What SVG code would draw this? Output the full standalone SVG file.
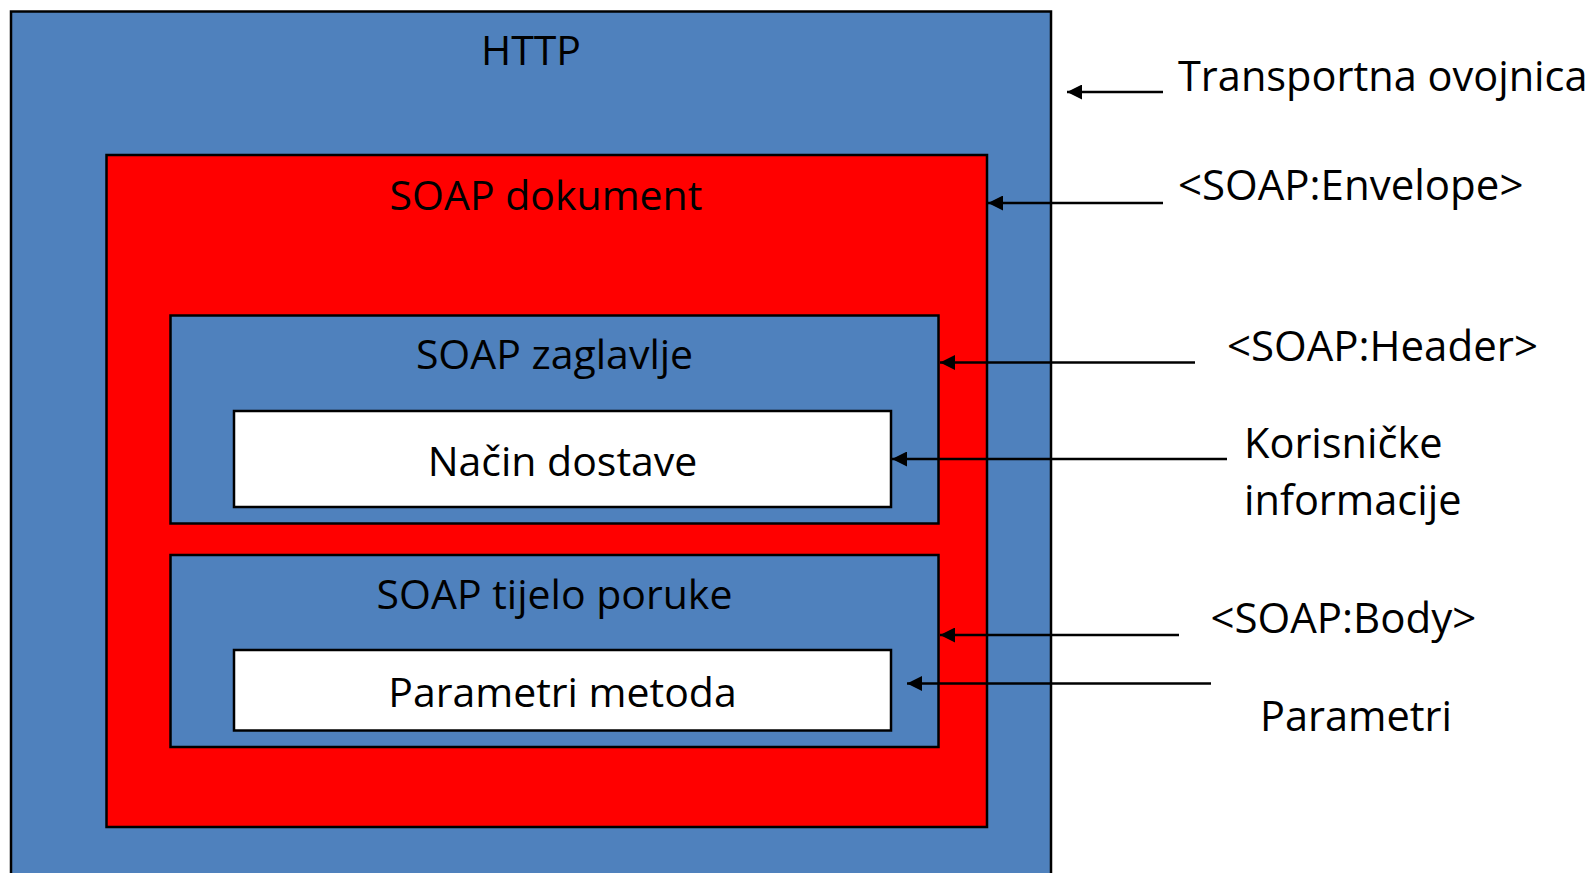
<svg xmlns="http://www.w3.org/2000/svg" width="1591" height="873" viewBox="0 0 1591 873">
<defs>
<style>
.box{stroke:#000;stroke-width:2.5}
.blue{fill:#4F81BD}
.red{fill:#FF0000}
.white{fill:#FFFFFF}
text{font-family:"Open Sans","Noto Sans",sans-serif;font-size:41px;fill:#000}
.lbl{font-size:41.5px}
.lbl2{font-size:42px}
.c{text-anchor:middle}
.conn{stroke:#000;stroke-width:2.5;fill:none;marker-end:url(#ah)}
</style>
<marker id="ah" markerUnits="userSpaceOnUse" markerWidth="16" markerHeight="15" refX="15" refY="7.5" orient="auto">
<path d="M0,0 L15,7.5 L0,15 Z" fill="#000"/>
</marker>
</defs>
<rect width="1591" height="873" fill="#FFFFFF"/>
<g id="http">
<rect class="box blue" x="11" y="11.5" width="1040" height="875"/>
<text class="c" x="531" y="65">HTTP</text>
</g>
<g id="soap-dokument">
<rect class="box red" x="106.5" y="155" width="880.5" height="672"/>
<text class="c" x="546" y="210">SOAP dokument</text>
</g>
<g id="soap-zaglavlje">
<rect class="box blue" x="170.5" y="315.5" width="768" height="208"/>
<text class="c" x="554.5" y="369">SOAP zaglavlje</text>
</g>
<g id="nacin-dostave">
<rect class="box white" x="234" y="411" width="657" height="96"/>
<text class="c" x="562.5" y="476">Način dostave</text>
</g>
<g id="soap-tijelo">
<rect class="box blue" x="170.5" y="555" width="768" height="192"/>
<text class="c" x="554.5" y="609">SOAP tijelo poruke</text>
</g>
<g id="parametri-metoda">
<rect class="box white" x="234" y="650" width="657" height="80.5"/>
<text class="c" x="562.5" y="707">Parametri metoda</text>
</g>
<g id="label-transportna"><text class="lbl" x="1178" y="91">Transportna ovojnica</text></g>
<g id="label-envelope"><text class="lbl2" x="1178" y="200">&lt;SOAP:Envelope&gt;</text></g>
<g id="label-header"><text class="lbl2" x="1227" y="361">&lt;SOAP:Header&gt;</text></g>
<g id="label-korisnicke"><text class="lbl" x="1244" y="458">Korisničke</text><text class="lbl" x="1244" y="515">informacije</text></g>
<g id="label-body"><text class="lbl2" x="1210.5" y="633">&lt;SOAP:Body&gt;</text></g>
<g id="label-parametri"><text class="lbl" x="1260" y="731">Parametri</text></g>
<g id="connectors">
<line class="conn" x1="1163" y1="92" x2="1067" y2="92"/>
<line class="conn" x1="1163" y1="203" x2="988" y2="203"/>
<line class="conn" x1="1195" y1="362.5" x2="940" y2="362.5"/>
<line class="conn" x1="1227" y1="459" x2="892" y2="459"/>
<line class="conn" x1="1179" y1="635" x2="940" y2="635"/>
<line class="conn" x1="1211" y1="683.5" x2="907" y2="683.5"/>
</g>
</svg>
